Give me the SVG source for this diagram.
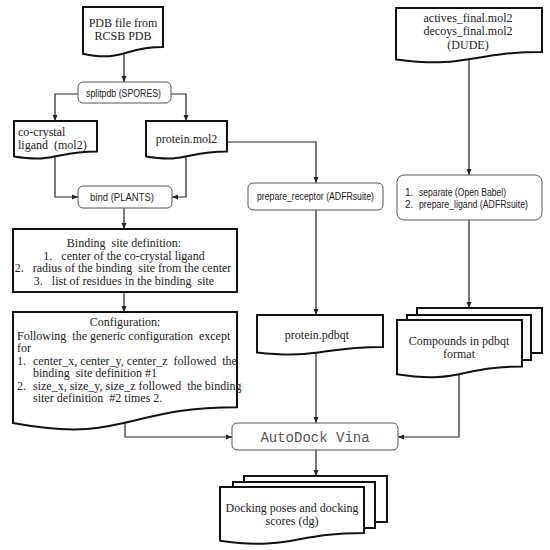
<svg xmlns="http://www.w3.org/2000/svg" width="550" height="550" viewBox="0 0 550 550">
<defs>
<marker id="arr" viewBox="0 0 6 6" refX="6" refY="3" markerWidth="6" markerHeight="6" markerUnits="userSpaceOnUse" orient="auto">
<path d="M0,0.5 L6,3 L0,5.5 Z" fill="#222"/>
</marker>
<style>
.doc{fill:#fff;stroke:#111;stroke-width:2}
.rbox{fill:#fff;stroke:#555;stroke-width:1}
.serif{font-family:"Liberation Serif",serif;font-size:12px;fill:#222}
.sans{font-family:"Liberation Sans",Arial,sans-serif;font-size:10px;fill:#222}
.mono{font-family:"Liberation Mono","Courier New",monospace;font-size:14px;fill:#555}
.c{text-anchor:middle}
.conn{fill:none;stroke:#222;stroke-width:1.2;marker-end:url(#arr)}
</style>
</defs>
<rect width="550" height="550" fill="#fff"/>

<g id="connectors">
<path class="conn" d="M124 53 V82"/>
<path class="conn" d="M78 94 H55 V121"/>
<path class="conn" d="M171 94 H186 V121"/>
<path class="conn" d="M55 157 V197 H78"/>
<path class="conn" d="M186 157 V197 H172"/>
<path class="conn" d="M227 142 H316 V183"/>
<path class="conn" d="M124 208 V229"/>
<path class="conn" d="M124 292 V312"/>
<path class="conn" d="M125 423 V437 H232"/>
<path class="conn" d="M316 210 V315"/>
<path class="conn" d="M316 353 V423"/>
<path class="conn" d="M469 59 V175"/>
<path class="conn" d="M469 220 V308"/>
<path class="conn" d="M459 374 V437 H398"/>
<path class="conn" d="M316 450 V476"/>
</g>

<g id="pdb">
<path class="doc" d="M83 7 H163 V47 C123 47 123 62.4 83 53.7 Z"/>
<text class="serif c" x="123" y="27">PDB file from</text>
<text class="serif c" x="123" y="40">RCSB PDB</text>
</g>

<g id="splitpdb">
<rect class="rbox" x="78" y="82" width="93" height="21" rx="5"/>
<text class="sans" x="86" y="97" textLength="75" lengthAdjust="spacingAndGlyphs">splitpdb (SPORES)</text>
</g>

<g id="cocrystal">
<path class="doc" d="M14 121 H97 V151.4 C55.5 151.4 55.5 163.1 14 156.5 Z"/>
<text class="serif" x="18" y="136">co-crystal</text>
<text class="serif" x="18" y="149" xml:space="preserve">ligand  (mol2)</text>
</g>

<g id="proteinmol2">
<path class="doc" d="M146 121 H227 V151.4 C186.5 151.4 186.5 163.1 146 156.5 Z"/>
<text class="serif c" x="186.5" y="143">protein.mol2</text>
</g>

<g id="bind">
<rect class="rbox" x="78" y="186" width="94" height="22" rx="5"/>
<text class="sans" x="90" y="201" textLength="64" lengthAdjust="spacingAndGlyphs">bind (PLANTS)</text>
</g>

<g id="bindingsite">
<rect class="doc" x="13" y="229" width="224" height="63"/>
<text class="serif c" x="124" y="247" xml:space="preserve">Binding  site definition:</text>
<text class="serif c" x="124" y="259.5" xml:space="preserve">1.   center of the co-crystal ligand</text>
<text class="serif c" x="123" y="272" xml:space="preserve">2.   radius of the binding  site from the center</text>
<text class="serif c" x="124" y="284.5" xml:space="preserve">3.   list of residues in the binding  site</text>
</g>

<g id="config">
<path class="doc" d="M13 312 H237 V407.2 C125 407.2 125 443.8 13 423.1 Z"/>
<text class="serif c" x="125" y="325.5">Configuration:</text>
<text class="serif" x="17" y="339.5" xml:space="preserve">Following  the generic configuration  except</text>
<text class="serif" x="17" y="352">for</text>
<text class="serif" x="17" y="364.5">1.</text>
<text class="serif" x="33" y="364.5" xml:space="preserve">center_x, center_y, center_z  followed  the</text>
<text class="serif" x="33" y="377" xml:space="preserve">binding  site definition #1</text>
<text class="serif" x="17" y="389.5">2.</text>
<text class="serif" x="33" y="389.5" xml:space="preserve">size_x, size_y, size_z followed  the binding</text>
<text class="serif" x="33" y="402" xml:space="preserve">siter definition  #2 times 2.</text>
</g>

<g id="prepare_receptor">
<rect class="rbox" x="248" y="183" width="135" height="27" rx="5"/>
<text class="sans" x="257" y="200" textLength="117" lengthAdjust="spacingAndGlyphs">prepare_receptor (ADFRsuite)</text>
</g>

<g id="proteinpdbqt">
<path class="doc" d="M257 315 H383 V347 C320 347 320 359.3 257 352.4 Z"/>
<text class="serif c" x="317" y="339">protein.pdbqt</text>
</g>

<g id="dude">
<path class="doc" d="M396 8 H542 V52 C469 52 469 68.9 396 59.4 Z"/>
<text class="serif c" x="468" y="22">actives_final.mol2</text>
<text class="serif c" x="468" y="35">decoys_final.mol2</text>
<text class="serif c" x="468" y="48.5">(DUDE)</text>
</g>

<g id="separate">
<rect class="rbox" x="397" y="175" width="145" height="45" rx="7"/>
<text class="sans" x="405" y="195.5">1.</text>
<text class="sans" x="419" y="195.5" textLength="87" lengthAdjust="spacingAndGlyphs">separate (Open Babel)</text>
<text class="sans" x="405" y="207.5">2.</text>
<text class="sans" x="419" y="207.5" textLength="109" lengthAdjust="spacingAndGlyphs">prepare_ligand (ADFRsuite)</text>
</g>

<g id="compounds">
<rect class="doc" x="417" y="308" width="125" height="45"/>
<rect class="doc" x="407" y="315" width="124" height="45"/>
<path class="doc" d="M397 320 H522 V366.4 C459.5 366.4 459.5 384.2 397 374.2 Z"/>
<text class="serif c" x="459" y="345">Compounds in pdbqt</text>
<text class="serif c" x="459" y="357.5">format</text>
</g>

<g id="vina">
<rect class="rbox" x="232" y="423" width="166" height="27" rx="5"/>
<text class="mono c" x="315" y="442">AutoDock Vina</text>
</g>

<g id="docking">
<rect class="doc" x="244" y="476" width="143" height="46"/>
<rect class="doc" x="233" y="482" width="142" height="46"/>
<path class="doc" d="M220 487 H364 V533 C292 533 292 550.7 220 540.7 Z"/>
<text class="serif c" x="292" y="511.5">Docking poses and docking</text>
<text class="serif c" x="292" y="525">scores (dg)</text>
</g>
</svg>
